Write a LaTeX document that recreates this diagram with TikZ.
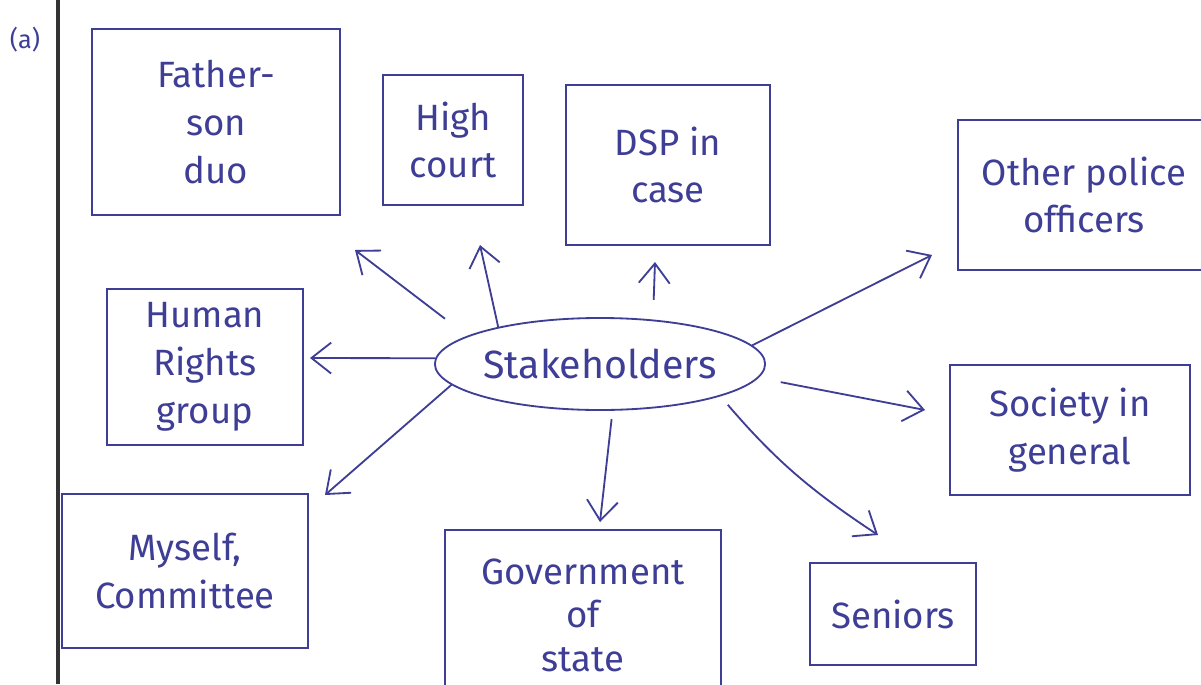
\documentclass[tikz,border=0pt]{standalone}
\usepackage{fontspec}
\setmainfont{Fira Sans}
\usetikzlibrary{shapes.geometric,arrows.meta}
\definecolor{ink}{RGB}{62,62,150}
\begin{document}
\begin{tikzpicture}[x=0.025cm,y=-0.025cm,
  box/.style={draw=ink,line width=1.3pt,text=ink,align=center,inner sep=2pt,
    font=\fontsize{26}{34}\selectfont},
  oval/.style={ellipse,draw=ink,line width=1.3pt,text=ink,inner sep=0pt,
    font=\fontsize{28}{34}\selectfont},
  conn/.style={draw=ink,line width=1.3pt,-{Straight Barb[length=14pt,width=22pt,line width=1.3pt]}}]
\useasboundingbox (0,0) rectangle (1201,684);
\fill[white] (0,0) rectangle (1201,684);
% margin line and label
\draw[line width=2.2pt,black!80] (58,0) -- (58,684);
\node[text=ink,font=\fontsize{18}{20}\selectfont] (lab) at (25,40) {(a)};
% boxes
\node[box,minimum width=6.2cm,minimum height=4.63cm] (fs) at (216,122) {Father-\\son\\duo};
\node[box,minimum width=3.5cm,minimum height=3.25cm] (hc) at (453,140) {High\\court};
\node[box,minimum width=5.08cm,minimum height=4.0cm] (dsp) at (668,165) {DSP in\\case};
\node[box,minimum width=6.3cm,minimum height=3.75cm] (op) at (1084,195) {Other police\\officers};
\node[box,minimum width=4.88cm,minimum height=3.88cm] (hr) at (205,367) {Human\\Rights\\group};
\node[box,minimum width=6.0cm,minimum height=3.25cm] (soc) at (1070,430) {Society in\\general};
\node[box,minimum width=6.13cm,minimum height=3.83cm] (my) at (185,571) {Myself,\\Committee};
\node[box,minimum width=6.88cm,minimum height=4.25cm,font=\fontsize{26}{31}\selectfont] (gov) at (583,615) {Government\\of\\state};
\node[box,minimum width=4.13cm,minimum height=2.55cm] (sen) at (893,614) {Seniors};
% centre
\node[oval,minimum width=8.18cm,minimum height=2.3cm] (st) at (600,364) {Stakeholders};
% arrow tips
\coordinate (tfs) at (355,250);
\coordinate (thc) at (480,245);
\coordinate (tdsp) at (655,262);
\coordinate (top) at (932,255);
\coordinate (tsoc) at (925,410);
\coordinate (tsen) at (878,535);
\coordinate (tgov) at (600,522);
\coordinate (thr) at (310,358);
\coordinate (tmy) at (325,495);
% connectors
\draw[conn,shorten <=20pt] (st.168) -- (tfs);
\draw[conn] (st.160) -- (thc);
\draw[conn,shorten <=14pt] (st.40) -- (tdsp);
\draw[conn] (st.7) -- (top);
\draw[conn,shorten <=16pt] (st.-5) -- (tsoc);
\draw[conn,shorten <=8pt] (st.-15) to[bend right=8] (tsen);
\draw[conn,shorten <=6pt] (st.-75) -- (tgov);
\draw[conn] (st.178) -- (thr);
\draw[conn] (st.188) -- (tmy);
\end{tikzpicture}
\end{document}
